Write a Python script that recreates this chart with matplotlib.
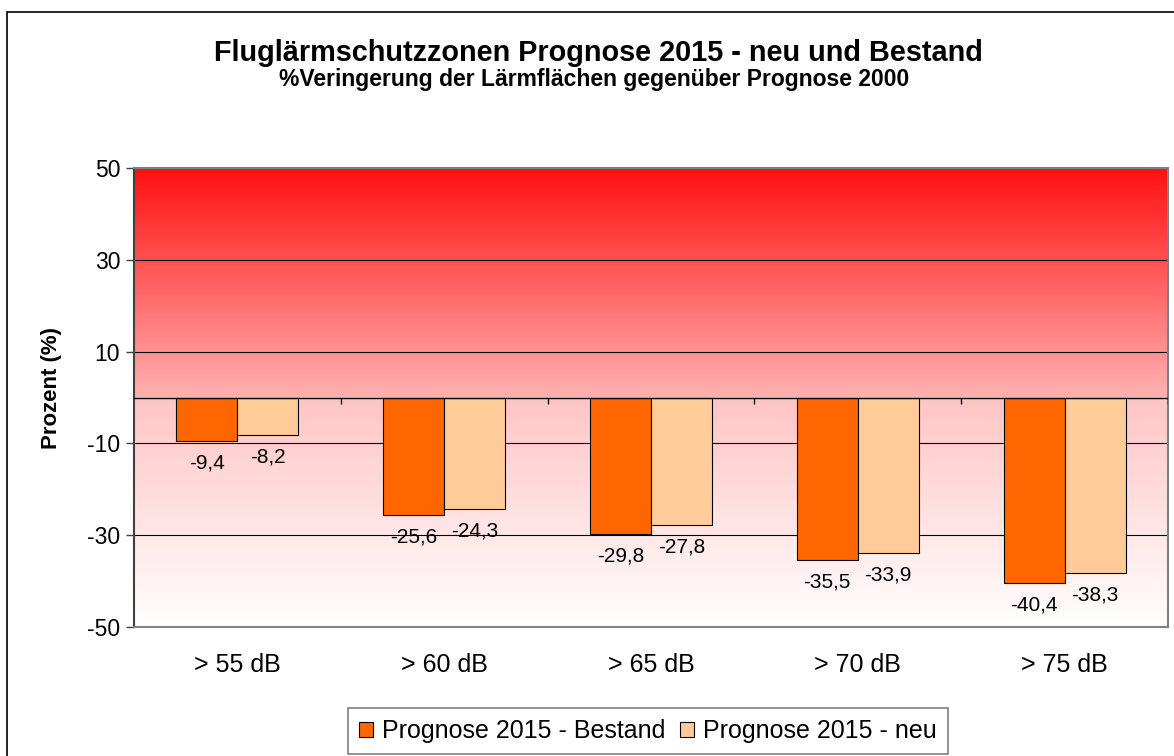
import numpy as np
import matplotlib
matplotlib.use('Agg')
import matplotlib.pyplot as plt
from matplotlib.colors import LinearSegmentedColormap
from matplotlib.patches import Rectangle

# categories and values (percent change vs. Prognose 2000)
categories = ['> 55 dB', '> 60 dB', '> 65 dB', '> 70 dB', '> 75 dB']
bestand = [-9.4, -25.6, -29.8, -35.5, -40.4]
neu = [-8.2, -24.3, -27.8, -33.9, -38.3]
series_names = ['Prognose 2015 - Bestand', 'Prognose 2015 - neu']
yticks = [50, 30, 10, -10, -30, -50]

plt.rcParams['font.family'] = ['Liberation Sans', 'DejaVu Sans']

fig = plt.figure(figsize=(11.74, 7.56), dpi=100)
ax = fig.add_axes([134 / 1174, 129 / 756, 1034 / 1174, 459 / 756])

x = np.arange(len(categories))
w = 0.295
ax.set_xlim(-0.5, len(categories) - 0.5)
ax.set_ylim(-50, 50)

# background gradients: red above zero, pale pink below
top_cmap = LinearSegmentedColormap.from_list('top', [(1, 178 / 255, 178 / 255), (1, 16 / 255, 16 / 255)])
bot_cmap = LinearSegmentedColormap.from_list('bot', [(1, 1, 1), (1, 196 / 255, 196 / 255)])
grad = np.linspace(0, 1, 256).reshape(-1, 1)
ax.imshow(grad, cmap=top_cmap, origin='lower', aspect='auto',
          extent=(-0.5, len(categories) - 0.5, 0, 50), zorder=0)
ax.imshow(grad, cmap=bot_cmap, origin='lower', aspect='auto',
          extent=(-0.5, len(categories) - 0.5, -50, 0), zorder=0)

for yv in yticks[1:-1]:
    ax.axhline(yv, color='black', lw=0.8, zorder=1)
ax.axhline(0, color='black', lw=1.0, zorder=3)
ax.vlines(x + 0.5, -1.4, 0, color='black', lw=1.0, zorder=3)

b1 = ax.bar(x - w / 2, bestand, w, color='#FF6600', edgecolor='black', lw=0.8,
            label=series_names[0], zorder=2)
b2 = ax.bar(x + w / 2, neu, w, color='#FFCC99', edgecolor='black', lw=0.8,
            label=series_names[1], zorder=2)

for bars, vals in ((b1, bestand), (b2, neu)):
    for rect, v in zip(bars, vals):
        ax.annotate(f'{v:.1f}'.replace('.', ','),
                    (rect.get_x() + rect.get_width() / 2, v),
                    xytext=(0, -9), textcoords='offset points',
                    ha='center', va='top', fontsize=15)

ax.set_xticks(x)
ax.set_xticklabels(categories, fontsize=18)
ax.tick_params(axis='x', length=0, pad=19)
ax.set_yticks(yticks)
ax.set_yticklabels([str(t) for t in yticks], fontsize=16.5)
ax.tick_params(axis='y', length=6, width=1, color='#404040', pad=4)

for s in ax.spines.values():
    s.set_color('#808080')
    s.set_linewidth(1.5)
ax.spines['left'].set_color('#404040')

ax.set_ylabel('Prozent (%)', fontsize=16, fontweight='bold')
ax.yaxis.set_label_coords(-0.0696, 0.52)

fig.text(598 / 1174, 1 - 61 / 756, 'Fluglärmschutzzonen Prognose 2015 - neu und Bestand',
         ha='center', va='baseline', fontsize=20.8, fontweight='bold')
fig.text(594 / 1174, 1 - 86 / 756, '%Veringerung der Lärmflächen gegenüber Prognose 2000',
         ha='center', va='baseline', fontsize=16.5, fontweight='bold')

leg = fig.legend(loc='center', bbox_to_anchor=(648 / 1174, 1 - 731 / 756), ncol=2,
                 fontsize=18, frameon=True, fancybox=False, borderpad=0.45,
                 handlelength=0.55, handleheight=0.55, handletextpad=0.35,
                 columnspacing=0.6, borderaxespad=0)
leg.get_frame().set_edgecolor('#606060')
leg.get_frame().set_linewidth(1.2)

# outer chart border
fig.add_artist(Rectangle((7 / 1174, -0.1), 1.2, 1.1 - 12 / 756, transform=fig.transFigure,
                         fill=False, edgecolor='black', lw=1.2))

fig.savefig('out.png', dpi=100)
